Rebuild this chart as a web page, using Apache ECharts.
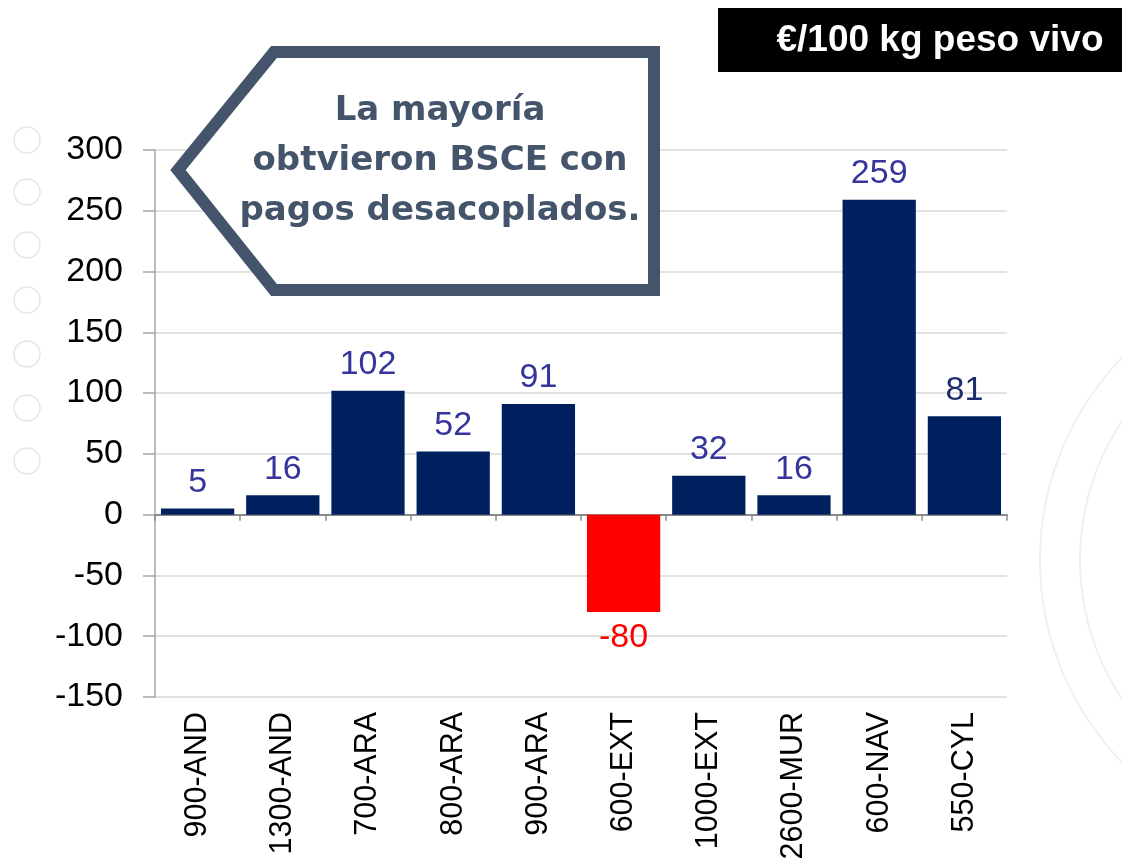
<!DOCTYPE html>
<html><head><meta charset="utf-8">
<script src="https://cdn.jsdelivr.net/npm/echarts@6/dist/echarts.min.js"></script>
<style>html,body{margin:0;padding:0;background:#fff}#c{width:1122px;height:859px}</style>
</head><body><div id="c"></div>
<script>
const categories = ['900-AND','1300-AND','700-ARA','800-ARA','900-ARA','600-EXT','1000-EXT','2600-MUR','600-NAV','550-CYL'];
const values = [5,16,102,52,91,-80,32,16,259,81];
const yTicks = [-150,-100,-50,0,50,100,150,200,250,300];
const unitLabel = '€/100 kg peso vivo';
const noteLines = ['La mayoría','obtvieron BSCE con','pagos desacoplados.'];

const chart = echarts.init(document.getElementById('c'));
const barData = values.map((v,i) => ({
  value: v,
  itemStyle: {color: v < 0 ? '#ff0000' : '#002060'},
  label: {color: v < 0 ? '#ff0000' : (i === values.length-1 ? '#1f2d6b' : '#35359b'), position: v < 0 ? 'bottom' : 'top'}
}));

const deco = [];
[140,192,245,300,354,408,461].forEach(y => deco.push({type:'circle', shape:{cx:27,cy:y,r:13}, style:{fill:'none', stroke:'#e6e6e6', lineWidth:1.5}, z:-10}));
[[1330,560,290],[1330,560,250]].forEach(a => deco.push({type:'arc', shape:{cx:a[0],cy:a[1],r:a[2],startAngle:Math.PI*0.75,endAngle:Math.PI*1.25}, style:{fill:'none', stroke:'#f0f0f0', lineWidth:2}, z:-10}));

chart.setOption({
  animation: false,
  grid: {left:155, right:115, top:150, bottom:162, containLabel:false, outerBoundsMode:'none'},
  xAxis: [
    {type:'category', data:categories, position:'bottom', axisLine:{onZero:false, show:false}, axisTick:{show:false},
     axisLabel:{rotate:90, margin:15, fontSize:30.5, color:'#000', fontFamily:'Liberation Sans, Arial'}},
    {type:'category', data:categories, position:'bottom', axisLine:{onZero:true, lineStyle:{color:'#8a8a8a', width:2}},
     axisTick:{show:true, length:6, lineStyle:{color:'#8a8a8a', width:1.5}}, axisLabel:{show:false}}
  ],
  yAxis: {type:'value', min:yTicks[0], max:yTicks[yTicks.length-1], interval:50,
    axisLine:{show:true, lineStyle:{color:'#a6a6a6', width:1.5}},
    axisTick:{show:true, length:12, lineStyle:{color:'#a6a6a6', width:1.5}},
    axisLabel:{fontSize:34, color:'#000', margin:32, fontFamily:'Liberation Sans, Arial'},
    splitLine:{lineStyle:{color:'#d9d9d9', width:1.5}}},
  series: [{type:'bar', xAxisIndex:0, data:barData, barCategoryGap:'14%',
    label:{show:true, fontSize:34, distance:9, fontFamily:'Liberation Sans, Arial'}}],
  graphic: deco.concat([
    {type:'rect', shape:{x:718, y:8, width:404, height:64}, style:{fill:'#000'}},
    {type:'text', style:{text:unitLabel, x:940, y:41, align:'center', verticalAlign:'middle', fill:'#fff', font:'bold 37px "Liberation Sans", Arial'}},
    {type:'polygon', shape:{points:[[178,170],[274,52],[654,52],[654,290],[274,290]]}, style:{fill:'#fff', stroke:'#44546a', lineWidth:12, lineJoin:'miter'}, z:50},
    {type:'text', style:{text:noteLines.join('\n'), x:440, y:161, align:'center', verticalAlign:'middle', lineHeight:50, fill:'#44546a', font:'bold 34px "DejaVu Sans"'}, z:51}
  ])
});
</script></body></html>
